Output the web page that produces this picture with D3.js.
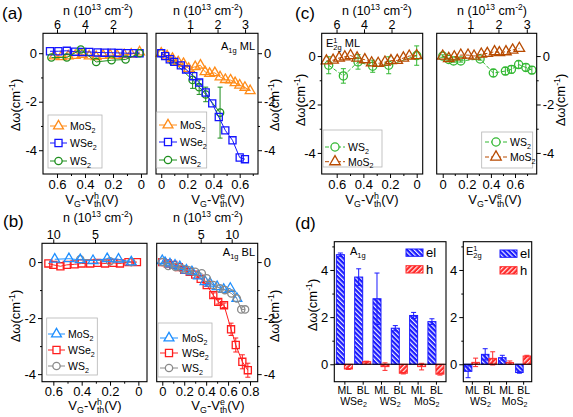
<!DOCTYPE html>
<html>
<head>
<meta charset="utf-8">
<script src="https://cdn.jsdelivr.net/npm/d3@7"></script>
<style>
  body { margin: 0; background: #fff; }
  svg { font-family: "Liberation Sans", Arial, sans-serif; }
  text { white-space: pre; }
</style>
</head>
<body>
<svg id="fig" width="573" height="417"></svg>
<script>
// ---------- (a) A1g ML ----------
const aH_MoS2_V  = [0.62,0.57,0.52,0.47,0.42,0.37,0.32,0.27,0.22,0.17,0.12,0.07,0.01];
const aH_MoS2_dw = [-0.12,-0.15,-0.12,-0.1,-0.05,-0.12,-0.15,-0.1,-0.08,-0.1,-0.06,-0.04,0.05];
const aH_WSe2_V  = [0.65,0.59,0.53,0.47,0.42,0.37,0.31,0.26,0.21,0.16,0.10,0.05,0.01];
const aH_WSe2_dw = [0.08,0.08,0.1,0.06,0.05,0.05,0.03,0.02,0.02,0.01,0,0,0];
const aH_WS2_V   = [0.64,0.53,0.43,0.32,0.21,0.11,0.01];
const aH_WS2_dw  = [-0.18,-0.18,0.15,-0.36,-0.29,-0.26,0];

const aE_MoS2_V  = [0,0.045,0.086,0.13,0.17,0.21,0.26,0.30,0.335,0.37,0.41,0.45,0.49,0.53,0.565,0.60,0.64,0.68];
const aE_MoS2_dw = [0,-0.12,-0.22,-0.36,-0.43,-0.63,-0.56,-0.5,-0.77,-0.84,-0.81,-0.98,-1.09,-1.11,-1.22,-1.32,-1.41,-1.55];
const aE_WSe2_V  = [0,0.03,0.065,0.10,0.15,0.19,0.245,0.29,0.34,0.39,0.44,0.49,0.545,0.60,0.64];
const aE_WSe2_dw = [0,-0.12,-0.25,-0.36,-0.5,-0.67,-0.95,-1.21,-1.62,-2.07,-2.63,-3.18,-3.59,-4.3,-4.37];
const aE_WS2_V   = [0,0.09,0.24,0.29,0.34,0.45];
const aE_WS2_dw  = [0,-0.35,-1.1,-1.4,-1.7,-2.45];
const aE_WS2_err = [0,0.05,0.35,0.3,0.3,1.05];

// ---------- (b) A1g BL ----------
const bH_MoS2_V  = [0.59,0.49,0.41,0.32,0.22,0.14,0.05];
const bH_MoS2_dw = [0.1,0.12,0.08,0.05,0.12,0.1,0];
const bH_WSe2_V  = [0.635,0.6,0.55,0.505,0.45,0.4,0.34,0.29,0.235,0.176,0.13,0.07,0.01];
const bH_WSe2_dw = [-0.05,-0.1,-0.15,-0.1,-0.08,-0.05,-0.05,-0.03,-0.05,-0.03,-0.05,0,0];
const bH_WS2_V   = [0.41,0.2,0.05];
const bH_WS2_dw  = [0.1,0.03,0];

const bE_MoS2_V  = [0,0.025,0.07,0.116,0.16,0.22,0.27,0.33,0.39,0.435,0.5,0.56,0.62,0.68];
const bE_MoS2_dw = [0.05,-0.02,-0.07,-0.11,-0.17,-0.29,-0.35,-0.5,-0.7,-0.76,-0.88,-0.98,-0.94,-1.3];
const bE_WSe2_V  = [0,0.05,0.1,0.15,0.2,0.25,0.3,0.35,0.405,0.465,0.51,0.563,0.627,0.67,0.73,0.78];
const bE_WSe2_dw = [0,-0.05,-0.1,-0.18,-0.28,-0.35,-0.45,-0.6,-0.82,-1.18,-1.42,-1.54,-2.4,-2.96,-3.56,-3.86];
const bE_WSe2_err= [0,0,0,0,0,0,0,0,0.05,0.08,0.08,0.08,0.22,0.25,0.25,0.25];
const bE_WS2_V   = [0,0.055,0.12,0.18,0.24,0.3,0.36,0.405,0.465,0.525,0.57,0.63,0.68,0.72,0.755];
const bE_WS2_dw  = [0,-0.14,-0.17,-0.23,-0.29,-0.35,-0.4,-0.58,-0.82,-0.94,-1.0,-1.12,-1.3,-1.69,-1.69];

// ---------- (c) E12g ML ----------
const cH_WS2_V   = [0.66,0.55,0.44,0.33,0.21,0];
const cH_WS2_dw  = [-0.38,-0.82,-0.24,-0.42,-0.38,0.02];
const cH_WS2_err = [0.35,0.3,0.3,0.25,0.35,0.4];
const cH_MoS2_V  = [0.677,0.627,0.582,0.539,0.496,0.447,0.389,0.338,0.289,0.238,0.193,0.146,0.1,0.056,0];
const cH_MoS2_dw = [-0.2,-0.17,-0.08,-0.03,0.02,-0.08,-0.15,-0.28,-0.3,-0.25,-0.19,-0.18,-0.08,0,0.02];

const cE_WS2_V   = [0,0.05,0.09,0.15,0.31,0.42,0.52,0.57,0.63,0.69,0.74];
const cE_WS2_dw  = [0,-0.14,-0.2,-0.2,-0.12,-0.7,-0.62,-0.55,-0.35,-0.47,-0.58];
const cE_WS2_err = [0.05,0.05,0.05,0.05,0.05,0.15,0.15,0.15,0.15,0.15,0.15];
const cE_MoS2_V  = [0,0.05,0.096,0.15,0.21,0.26,0.32,0.37,0.43,0.47,0.525,0.58,0.636];
const cE_MoS2_dw = [0,-0.1,-0.03,0.04,0.04,0,0.08,0.11,0.18,0.14,0.18,0.25,0.32];

// ---------- (d) bars ----------
const dA_cats  = ["ML","BL","ML","BL","ML","BL"];
const dA_mats  = ["WSe","WS","MoS"];
const dA_el    = [4.65,3.7,2.78,1.53,2.07,1.81];
const dA_elErr = [0.07,0.35,1.09,0.11,0.13,0.12];
const dA_h     = [-0.2,0.11,-0.1,-0.38,-0.1,-0.42];
const dA_hErr  = [0.02,0.02,0.16,0.03,0.14,0.04];

const dE_cats  = ["ML","BL","ML","BL"];
const dE_mats  = ["WS","MoS"];
const dE_el    = [-0.3,0.42,0.28,-0.35];
const dE_elErr = [0.27,0.24,0.1,0.03];
const dE_h     = [0.08,0.25,0.07,0.35];
const dE_hErr  = [0.18,0.28,0.07,0.03];

const yTicks = [0,-2,-4], yMinor = [-1,-3];

const svg = d3.select("#fig");
svg.append("rect").attr("width",573).attr("height",417).attr("fill","#fff");

const EL = "#1a1aff", HC = "#ff2a2a";
const defs = svg.append("defs");
function hatch(id, color, ang) {
  const p = defs.append("pattern").attr("id",id).attr("patternUnits","userSpaceOnUse")
    .attr("width",3.4).attr("height",3.4).attr("patternTransform",`rotate(${ang})`);
  p.append("rect").attr("width",3.4).attr("height",3.4).attr("fill",color);
  p.append("line").attr("x1",0.6).attr("x2",0.6).attr("y1",0).attr("y2",3.4)
    .attr("stroke","#fff").attr("stroke-width",1.1);
}
hatch("hatchEl", EL, -45);
hatch("hatchH", HC, 45);

// text with sub/superscripts, measured piece by piece
function rich(parent, x, y, parts, fs, opt = {}) {
  const g = parent.append("g");
  let cx = 0;
  parts.forEach(p => {
    const q = typeof p === "string" ? {t: p} : p;
    const sz = q.s ? fs * 0.68 : fs;
    const dy = q.s === "sup" ? -fs * 0.36 : q.s === "sub" ? fs * 0.26 : 0;
    const el = g.append("text").attr("x", cx).attr("y", dy).attr("font-size", sz).attr("fill","#000").text(q.t);
    if (!q.keep) cx += el.node().getComputedTextLength();
  });
  const off = opt.anchor === "middle" ? -cx / 2 : opt.anchor === "end" ? -cx : 0;
  g.attr("transform", `translate(${x},${y}) rotate(${opt.rot || 0}) translate(${off},0)`);
  return g;
}

const sub2 = m => [m, {t:"2", s:"sub"}];
const nTitle = ["n (10", {t:"13", s:"sup"}, " cm", {t:"-2", s:"sup"}, ")"];
const vTitle = c => ["V", {t:"G", s:"sub"}, "-V", {t:c, s:"sup", keep:true}, {t:"th", s:"sub"}, "(V)"];
const dwTitle = ["\u0394\u03c9(cm", {t:"-1", s:"sup"}, ")"];
const fmt = d => String(d);

function axisIn(g, axis, tx, ty, fs) {
  return g.append("g").attr("transform", `translate(${tx},${ty})`).call(axis)
    .call(s => {
      s.select(".domain").remove();
      s.attr("font-family", null).attr("font-size", fs);
      s.selectAll(".tick line").attr("stroke", "#000");
      s.selectAll(".tick text").attr("fill", "#000");
    });
}

function linePanel(c) {
  const g = svg.append("g");
  const x = d3.scaleLinear().domain(c.xDom).range([c.x0, c.x1]);
  const y = d3.scaleLinear().domain(c.yDom).range([c.y1, c.y0]);
  const n = d3.scaleLinear().domain(c.nDom).range([c.x0, c.x1]);

  axisIn(g, d3.axisBottom(x).tickValues(c.xTicks).tickFormat(fmt).tickSize(4).tickPadding(1.5), 0, c.y1, 13);
  axisIn(g, d3.axisBottom(x).tickValues(c.xMinor).tickFormat(() => "").tickSize(2), 0, c.y1, 13);
  axisIn(g, d3.axisTop(n).tickValues(c.nTicks).tickFormat(fmt).tickSize(4).tickPadding(0), 0, c.y0, 12.5);
  const yA = c.side === "L" ? d3.axisLeft(y) : d3.axisRight(y);
  const yB = c.side === "L" ? d3.axisLeft(y) : d3.axisRight(y);
  const yx = c.side === "L" ? c.x0 : c.x1;
  axisIn(g, yA.tickValues(yTicks).tickFormat(fmt).tickSize(4).tickPadding(2), yx, 0, 13);
  axisIn(g, yB.tickValues(yMinor).tickFormat(() => "").tickSize(2), yx, 0, 13);

  c.series.forEach(s => {
    const pts = s.V.map((v, i) => ({v, w: s.dw[i], e: s.err ? s.err[i] : 0}));
    g.append("path").datum(pts)
      .attr("d", d3.line().x(p => x(p.v)).y(p => y(p.w)))
      .attr("fill", "none").attr("stroke", s.color).attr("stroke-width", 1)
      .attr("stroke-dasharray", s.dash || null);
    const eb = pts.filter(p => p.e > 0.04);
    g.selectAll(null).data(eb).join("path")
      .attr("d", p => {
        const xx = x(p.v), ya = y(p.w - p.e), yb = y(p.w + p.e);
        return `M${xx},${ya}V${yb}M${xx - 2.5},${ya}h5M${xx - 2.5},${yb}h5`;
      })
      .attr("fill", "none").attr("stroke", s.color).attr("stroke-width", 1);
    g.selectAll(null).data(pts).join("path")
      .attr("transform", p => `translate(${x(p.v)},${y(p.w)})`)
      .attr("d", d3.symbol(s.shape, s.size)())
      .attr("fill", "none").attr("stroke", s.color).attr("stroke-width", 1.3);
  });

  g.append("rect").attr("x", c.x0).attr("y", c.y0).attr("width", c.x1 - c.x0).attr("height", c.y1 - c.y0)
    .attr("fill", "none").attr("stroke", "#000").attr("stroke-width", 1.1);

  // legend
  const L = c.legend;
  g.append("rect").attr("x", L.box[0]).attr("y", L.box[1]).attr("width", L.box[2] - L.box[0])
    .attr("height", L.box[3] - L.box[1]).attr("fill", "#fff").attr("stroke", "#b4b4b4").attr("stroke-width", 0.8);
  L.order.forEach((k, i) => {
    const s = c.series[k], yy = L.ys[i];
    g.append("line").attr("x1", L.lx[0]).attr("x2", L.lx[1]).attr("y1", yy).attr("y2", yy)
      .attr("stroke", s.color).attr("stroke-dasharray", s.dash || null);
    g.append("path").attr("transform", `translate(${(L.lx[0] + L.lx[1]) / 2},${yy})`)
      .attr("d", d3.symbol(s.shape, s.size)())
      .attr("fill", "#fff").attr("stroke", s.color).attr("stroke-width", 1.3);
    rich(g, L.tx, yy + 4, s.label, 10.5);
  });

  rich(g, c.nTitle[0], c.nTitle[1], nTitle, 12.5, {anchor: "middle"});
  rich(g, c.vTitle[0], c.vTitle[1], vTitle(c.vSup), 13, {anchor: "middle"});
  rich(g, c.dwPos[0], c.dwPos[1], dwTitle, 13, {anchor: "middle", rot: -90});
  if (c.tag) rich(g, c.tag.x, c.tag.y, c.tag.parts, 11, {anchor: c.tag.anchor});
}

const tri = d3.symbolTriangle, sq = d3.symbolSquare, ci = d3.symbolCircle;
const aCol = {MoS2: "#ff8c1a", WSe2: "#1414ff", WS2: "#1f8f1f"};
const bCol = {MoS2: "#1e8fff", WSe2: "#ff1e1e", WS2: "#8a8a8a"};
const cCol = {WS2: "#33b833", MoS2: "#b84a00"};

const aYDom = [-4.98, 0.82], bYDom = [-4.27, 0.67], cYDom = [-4.87, 0.94];

// (a) left, hole side
linePanel({
  x0: 43, x1: 147, y0: 33.3, y1: 174, side: "L",
  xDom: [0.7, -0.043], nDom: [7.0, -0.43], yDom: aYDom,
  xTicks: [0.6, 0.4, 0.2, 0], xMinor: [0.5, 0.3, 0.1], nTicks: [6, 4, 2],
  series: [
    {V: aH_MoS2_V, dw: aH_MoS2_dw, color: aCol.MoS2, shape: tri, size: 42, label: sub2("MoS")},
    {V: aH_WSe2_V, dw: aH_WSe2_dw, color: aCol.WSe2, shape: sq, size: 50, label: sub2("WSe")},
    {V: aH_WS2_V, dw: aH_WS2_dw, color: aCol.WS2, shape: ci, size: 42, label: sub2("WS")}
  ],
  legend: {box: [48, 115, 102, 168], lx: [50, 67], tx: 70, ys: [126, 143, 161], order: [0, 1, 2]},
  nTitle: [98, 14.5], vTitle: [92, 204], vSup: "h", dwPos: [19.5, 105]
});
// (a) right, electron side
linePanel({
  x0: 156, x1: 258, y0: 33.3, y1: 174, side: "R",
  xDom: [-0.04, 0.74], nDom: [-0.236, 3.47], yDom: aYDom,
  xTicks: [0, 0.2, 0.4, 0.6], xMinor: [0.1, 0.3, 0.5, 0.7], nTicks: [1, 2, 3],
  series: [
    {V: aE_WS2_V, dw: aE_WS2_dw, err: aE_WS2_err, color: aCol.WS2, shape: ci, size: 42, label: sub2("WS")},
    {V: aE_MoS2_V, dw: aE_MoS2_dw, color: aCol.MoS2, shape: tri, size: 42, label: sub2("MoS")},
    {V: aE_WSe2_V, dw: aE_WSe2_dw, color: aCol.WSe2, shape: sq, size: 50, label: sub2("WSe")}
  ],
  legend: {box: [156.7, 112, 206.7, 168], lx: [159, 177], tx: 180, ys: [125, 142, 160], order: [1, 2, 0]},
  nTitle: [208, 14.5], vTitle: [218, 204], vSup: "e", dwPos: [279, 105],
  tag: {x: 255, y: 50, anchor: "end", parts: ["A", {t: "1g", s: "sub"}, " ML"]}
});
// (b) left
linePanel({
  x0: 42, x1: 147, y0: 243.3, y1: 381.7, side: "L",
  xDom: [0.68, -0.061], nDom: [11.35, -1.23], yDom: bYDom,
  xTicks: [0.6, 0.4, 0.2, 0], xMinor: [0.5, 0.3, 0.1], nTicks: [10, 5],
  series: [
    {V: bH_WSe2_V, dw: bH_WSe2_dw, color: bCol.WSe2, shape: sq, size: 50, label: sub2("WSe")},
    {V: bH_WS2_V, dw: bH_WS2_dw, color: bCol.WS2, shape: ci, size: 42, label: sub2("WS")},
    {V: bH_MoS2_V, dw: bH_MoS2_dw, color: bCol.MoS2, shape: tri, size: 42, label: sub2("MoS")}
  ],
  legend: {box: [46.7, 318, 97.3, 375], lx: [48, 65], tx: 68, ys: [334, 350, 366], order: [2, 0, 1]},
  nTitle: [98, 221.5], vTitle: [95, 410], vSup: "h", dwPos: [19.5, 316]
});
// (b) right
linePanel({
  x0: 156.7, x1: 257.7, y0: 243.3, y1: 381.7, side: "R",
  xDom: [-0.051, 0.87], nDom: [-2.1, 14.2], yDom: bYDom,
  xTicks: [0, 0.2, 0.4, 0.6, 0.8], xMinor: [0.1, 0.3, 0.5, 0.7], nTicks: [5, 10],
  series: [
    {V: bE_WSe2_V, dw: bE_WSe2_dw, err: bE_WSe2_err, color: bCol.WSe2, shape: sq, size: 50, label: sub2("WSe")},
    {V: bE_MoS2_V, dw: bE_MoS2_dw, color: bCol.MoS2, shape: tri, size: 42, label: sub2("MoS")},
    {V: bE_WS2_V, dw: bE_WS2_dw, color: bCol.WS2, shape: ci, size: 42, label: sub2("WS")}
  ],
  legend: {box: [158, 323, 212, 377], lx: [160, 178], tx: 182, ys: [338, 353, 368], order: [1, 0, 2]},
  nTitle: [208, 221.5], vTitle: [218, 410], vSup: "e", dwPos: [279, 316],
  tag: {x: 255, y: 256, anchor: "end", parts: ["A", {t: "1g", s: "sub"}, " BL"]}
});
// (c) left
linePanel({
  x0: 321.7, x1: 422.7, y0: 33.3, y1: 174, side: "L",
  xDom: [0.7125, -0.045], nDom: [7.08, -0.27], yDom: cYDom,
  xTicks: [0.6, 0.4, 0.2, 0], xMinor: [0.5, 0.3, 0.1], nTicks: [6, 4, 2],
  series: [
    {V: cH_WS2_V, dw: cH_WS2_dw, err: cH_WS2_err, color: cCol.WS2, shape: ci, size: 52, dash: "4,2", label: sub2("WS")},
    {V: cH_MoS2_V, dw: cH_MoS2_dw, color: cCol.MoS2, shape: tri, size: 48, dash: "4,2", label: sub2("MoS")}
  ],
  legend: {box: [323, 130, 382, 167], lx: [325, 345], tx: 348, ys: [147, 161.7], order: [0, 1]},
  nTitle: [377, 14.5], vTitle: [372, 204], vSup: "h", dwPos: [304.5, 100],
  tag: {x: 326, y: 47, anchor: "start", parts: ["E", {t: "1", s: "sup", keep: true}, {t: "2g", s: "sub"}, " ML"]}
});
// (c) right
linePanel({
  x0: 436.7, x1: 536.7, y0: 33.3, y1: 174, side: "R",
  xDom: [-0.05, 0.78], nDom: [-0.18, 3.35], yDom: cYDom,
  xTicks: [0, 0.2, 0.4, 0.6], xMinor: [0.1, 0.3, 0.5, 0.7], nTicks: [1, 2, 3],
  series: [
    {V: cE_WS2_V, dw: cE_WS2_dw, err: cE_WS2_err, color: cCol.WS2, shape: ci, size: 52, dash: "4,2", label: sub2("WS")},
    {V: cE_MoS2_V, dw: cE_MoS2_dw, color: cCol.MoS2, shape: tri, size: 48, dash: "4,2", label: sub2("MoS")}
  ],
  legend: {box: [481.7, 132, 532.7, 168], lx: [485, 507], tx: 510, ys: [142, 157], order: [0, 1]},
  nTitle: [492, 14.5], vTitle: [495, 204], vSup: "e", dwPos: [564.5, 100]
});

// ---------- (d) bar panels ----------
const dYDom = [-0.74, 5.2];
function barPanel(c) {
  const g = svg.append("g");
  const idx = d3.range(c.el.length);
  const x = d3.scalePoint().domain(idx).range([c.x0, c.x1]).padding(c.pad);
  const y = d3.scaleLinear().domain(dYDom).range([c.y1, c.y0]);
  const bw = c.bw;
  const bars = (vals, errs, dx, fill, color) => {
    g.selectAll(null).data(idx).join("rect")
      .attr("x", i => x(i) + dx).attr("width", bw)
      .attr("y", i => Math.min(y(vals[i]), y(0)))
      .attr("height", i => Math.abs(y(vals[i]) - y(0)))
      .attr("fill", fill).attr("stroke", color).attr("stroke-width", 1);
    g.selectAll(null).data(idx).join("path")
      .attr("d", i => {
        const xx = x(i) + dx + bw / 2, ya = y(vals[i] - errs[i]), yb = y(vals[i] + errs[i]);
        return `M${xx},${ya}V${yb}M${xx - 2.5},${ya}h5M${xx - 2.5},${yb}h5`;
      })
      .attr("fill", "none").attr("stroke", color).attr("stroke-width", 1);
  };
  bars(c.el, c.elErr, -bw, "url(#hatchEl)", EL);
  bars(c.h, c.hErr, 0, "url(#hatchH)", HC);
  g.append("line").attr("x1", c.x0).attr("x2", c.x1).attr("y1", y(0)).attr("y2", y(0))
    .attr("stroke", "#000").attr("stroke-width", 1.1);

  axisIn(g, d3.axisLeft(y).tickValues([0, 2, 4]).tickFormat(fmt).tickSize(4).tickPadding(2), c.x0, 0, 13);
  axisIn(g, d3.axisLeft(y).tickValues([1, 3, 5]).tickFormat(() => "").tickSize(2), c.x0, 0, 13);
  axisIn(g, d3.axisBottom(x).tickFormat(i => c.cats[i]).tickSize(3).tickPadding(2), 0, c.y1, 10.5);
  c.mats.forEach((m, k) => {
    rich(g, (x(2 * k) + x(2 * k + 1)) / 2, c.y1 + 23, sub2(m), 10.5, {anchor: "middle"});
  });

  g.append("rect").attr("x", c.x0).attr("y", c.y0).attr("width", c.x1 - c.x0).attr("height", c.y1 - c.y0)
    .attr("fill", "none").attr("stroke", "#000").attr("stroke-width", 1.1);

  const L = c.legend;
  [["el", "url(#hatchEl)", EL], ["h", "url(#hatchH)", HC]].forEach((e, i) => {
    g.append("rect").attr("x", L.x).attr("y", L.ys[i]).attr("width", 17).attr("height", 7.3)
      .attr("fill", e[1]).attr("stroke", e[2]).attr("stroke-width", 1);
    g.append("text").attr("x", L.x + 20).attr("y", L.ys[i] + 8).attr("font-size", 13).text(e[0]);
  });
  rich(g, c.tag.x, c.tag.y, c.tag.parts, 11);
}

barPanel({
  x0: 334.3, x1: 446, y0: 241.7, y1: 381.7, pad: 0.55, bw: 8,
  el: dA_el, elErr: dA_elErr, h: dA_h, hErr: dA_hErr, cats: dA_cats, mats: dA_mats,
  legend: {x: 406, ys: [249, 265.7]},
  tag: {x: 350, y: 255, parts: ["A", {t: "1g", s: "sub"}]}
});
barPanel({
  x0: 463.3, x1: 531.7, y0: 241.7, y1: 381.7, pad: 0.5, bw: 7.5,
  el: dE_el, elErr: dE_elErr, h: dE_h, hErr: dE_hErr, cats: dE_cats, mats: dE_mats,
  legend: {x: 500, ys: [250, 266.7]},
  tag: {x: 466, y: 255, parts: ["E", {t: "1", s: "sup", keep: true}, {t: "2g", s: "sub"}]}
});
rich(svg, 316.5, 305, dwTitle, 13, {anchor: "middle", rot: -90});

// panel letters
[["(a)", 2, 19], ["(b)", 3, 227], ["(c)", 295, 19], ["(d)", 295, 229]].forEach(t => {
  svg.append("text").attr("x", t[1]).attr("y", t[2]).attr("font-size", 17).text(t[0]);
});
</script>
</body>
</html>
